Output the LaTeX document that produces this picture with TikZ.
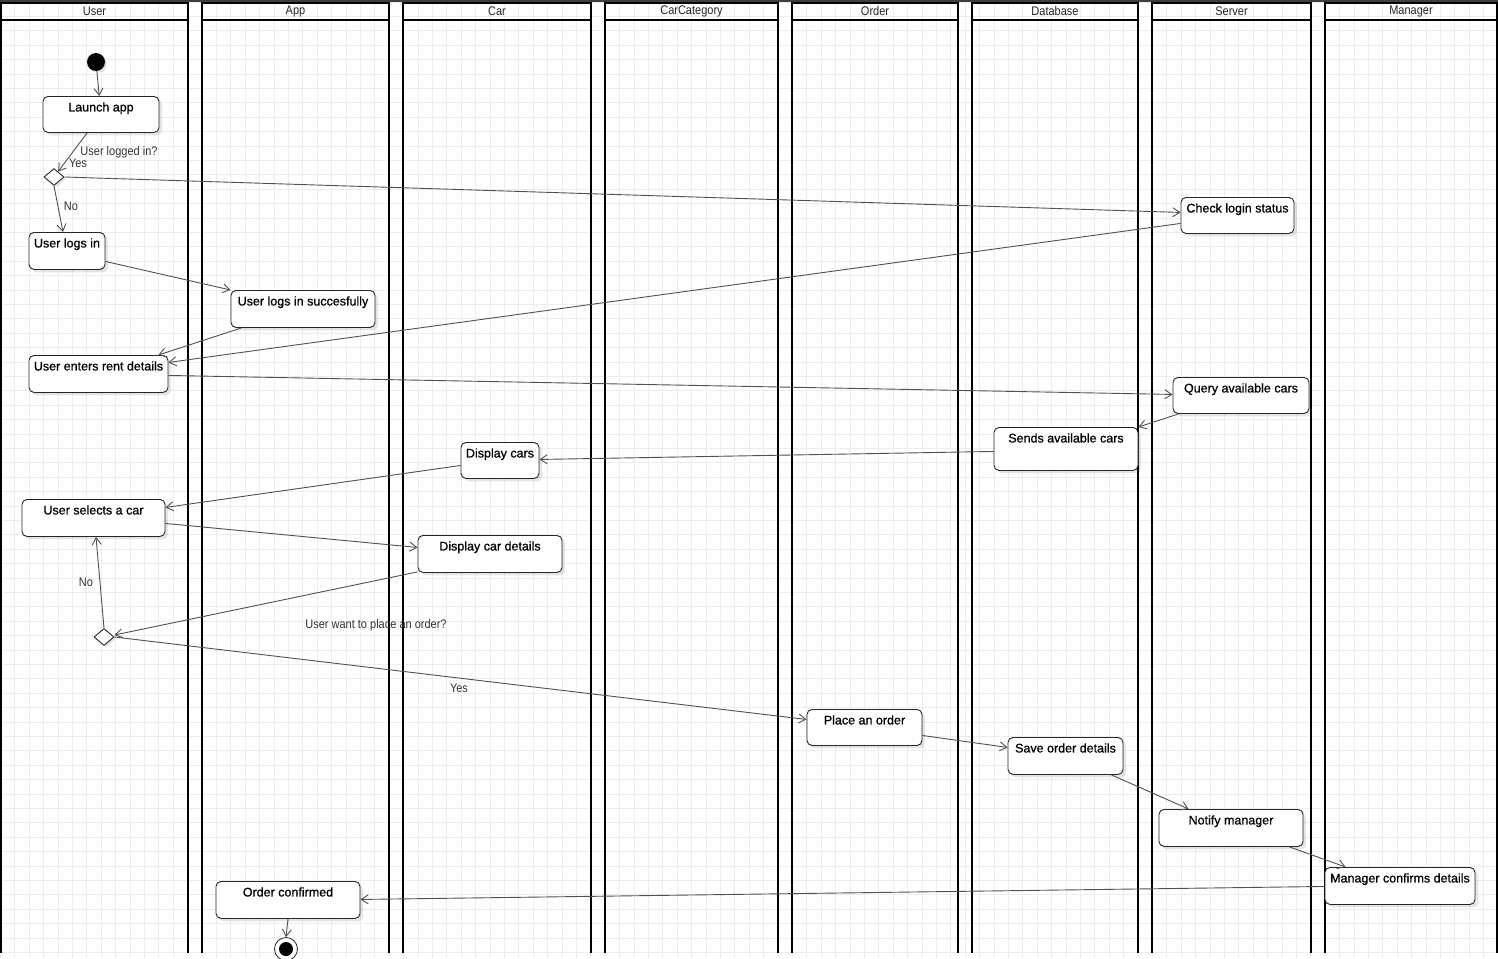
\documentclass[tikz,border=0pt]{standalone}
\usepackage{fontspec}
\setmainfont{Liberation Sans}
\newfontfamily\lblfont{Liberation Sans}[FakeStretch=0.88]
\newfontfamily\boxfont{Liberation Sans}[FakeBold=0.8]
\usetikzlibrary{arrows.meta,shapes.geometric,shadows,calc}
\definecolor{topbar}{HTML}{3B3F45}
\definecolor{gridc}{HTML}{EDEDED}
\definecolor{edgec}{HTML}{505050}
\newcommand\actnode[6]{\node[actbox, minimum width=#4pt, text depth=#5pt] (#1) at (#2,#3) {#6};}
\begin{document}
\begin{tikzpicture}[x=1pt,y=-1pt,
  gridline/.style={draw=gridc, line width=0.8pt},
  lane/.style={draw=black, line width=1.8pt},
  lanehead/.style={font=\lblfont\fontsize{12.5}{14}\selectfont, text=black!85, inner sep=0pt},
  actbox/.style={draw=black!85, line width=0.9pt, rounded corners=5pt, fill=white,
    drop shadow={shadow xshift=3pt,shadow yshift=-3pt,fill=black,opacity=0.10},
    font=\boxfont\fontsize{12.5}{14}\selectfont, anchor=north,
    inner xsep=0pt, inner ysep=3pt, text height=12pt},
  decision/.style={shape=diamond, draw=black!85, line width=0.9pt, fill=white,
    minimum width=20pt, minimum height=17pt, inner sep=0pt,
    drop shadow={shadow xshift=2pt,shadow yshift=-2pt,fill=black,opacity=0.10}},
  flow/.style={draw=edgec, line width=0.9pt, -{Straight Barb[length=7pt,width=9pt]}},
  lbl/.style={font=\lblfont\fontsize{12.5}{14}\selectfont, text=black!80, inner sep=0pt},
]
\useasboundingbox (0,0) rectangle (1498,958);
\fill[white] (0,0) rectangle (1498,958);
% grid
\foreach \i in {0,...,104} { \draw[gridline] (\i*14.4+0.4,0) -- (\i*14.4+0.4,958); }
\foreach \j in {0,...,66} { \draw[gridline] (0,\j*14.4+2) -- (1498,\j*14.4+2); }
\fill[topbar] (0,0) rectangle (1498,2.2);
% lanes
\foreach \a/\b/\n in {1/188/User, 202/389/App, 403/591/Car, 605/778/CarCategory,
  792/958/Order, 972/1138/Database, 1152/1311/Server, 1325/1497/Manager} {
  \draw[lane] (\a,953) -- (\a,3) -- (\b,3) -- (\b,953);
  \draw[lane] (\a,20) -- (\b,20);
  \node[lanehead] (h\n) at ({(\a+\b)/2},11) {\n};
}
% start / end
\node[circle, fill=black, minimum size=18pt, inner sep=0pt,
  drop shadow={shadow xshift=2pt,shadow yshift=-2pt,fill=black,opacity=0.10}] (start) at (96,62) {};
\node[circle, draw=black!85, line width=0.8pt, fill=white, minimum size=23pt, inner sep=0pt] (end) at (286,949) {};
\fill[black] (end.center) circle[radius=7pt];
% activities
\actnode{la}{101}{96}{116}{18}{Launch app}
\node[decision] (d1) at (54,177) {};
\actnode{uli}{67}{232}{76}{19}{User logs in}
\actnode{uls}{303}{290}{144}{19}{User logs in succesfully}
\actnode{urd}{98.5}{355}{139}{19}{User enters rent details}
\actnode{cls}{1237.5}{197}{113}{18}{Check login status}
\actnode{qac}{1241}{377}{136}{18}{Query available cars}
\actnode{sac}{1066}{427}{144}{25}{Sends available cars}
\actnode{dc}{500}{442}{78}{18}{Display cars}
\actnode{usc}{93.5}{499}{143}{19}{User selects a car}
\actnode{dcd}{490}{535}{144}{19}{Display car details}
\node[decision] (d2) at (104,637) {};
\actnode{pao}{864.5}{709}{115}{18}{Place an order}
\actnode{sod}{1065.5}{737}{115}{19}{Save order details}
\actnode{nm}{1231}{809}{144}{19}{Notify manager}
\actnode{mcd}{1400}{867}{150}{19}{Manager confirms details}
\actnode{oc}{288}{881}{144}{19}{Order confirmed}
% connectors
\draw[flow] (start) -- (la);
\draw[flow] (la) -- (d1);
\draw[flow] (d1.east) -- ($(cls.west)+(0,-3)$);
\draw[flow] (d1.south) -- ($(uli.north)+(-4,0)$);
\draw[flow] ($(uli.east)+(0,10.5)$) -- (uls.north west);
\draw[flow] ($(uls.south west)+(11,0)$) -- ($(urd.north east)+(-10,0)$);
\draw[flow] ($(cls.west)+(0,8)$) -- ($(urd.east)+(0,-11.5)$);
\draw[flow] ($(urd.east)+(0,1.5)$) -- ($(qac.west)+(0,-1)$);
\draw[flow] ($(qac.south west)+(6,0)$) -- (sac.north east);
\draw[flow] ($(sac.west)+(0,2.5)$) -- ($(dc.east)+(0,-1)$);
\draw[flow] ($(dc.west)+(0,5)$) -- ($(usc.east)+(0,-10.5)$);
\draw[flow] ($(usc.east)+(0,5.5)$) -- ($(dcd.west)+(0,-6.5)$);
\draw[flow] ($(dcd.south west)+(0,-1)$) -- ($(d2.east)+(0,-2)$);
\draw[flow] (d2.north) -- ($(usc.south)+(2.5,0)$);
\draw[flow] (d2.east) -- ($(pao.west)+(0,-8)$);
\draw[flow] ($(pao.east)+(0,8)$) -- ($(sod.west)+(0,-8.5)$);
\draw[flow] ($(sod.south east)+(-12,0)$) -- ($(nm.north west)+(30,0)$);
\draw[flow] ($(nm.south east)+(-14,0)$) -- ($(mcd.north west)+(21,0)$);
\draw[flow] ($(mcd.west)+(0,0.5)$) -- ($(oc.east)+(0,-0.5)$);
\draw[flow] (oc.south) -- (end.north);
% labels
\node[lbl] (t1) at (119,152) {User logged in?};
\node[lbl] (t2) at (78,163) {Yes};
\node[lbl] (t3) at (71,206) {No};
\node[lbl] (t4) at (86,582) {No};
\node[lbl] (t5) at (459,688) {Yes};
\node[lbl] (t6) at (376,625) {User want to place an order?};
\end{tikzpicture}
\end{document}
